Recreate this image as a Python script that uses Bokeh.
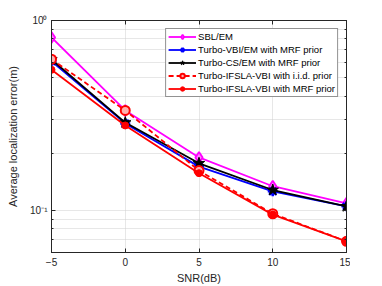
from bokeh.plotting import figure
from bokeh.models import (FixedTicker, LinearAxis, LogAxis, Legend, LegendItem, Range1d)
from bokeh.embed import file_html
from bokeh.resources import INLINE

snr = [-5, 0, 5, 10, 15]
sbl_em = [0.814, 0.336, 0.190, 0.134, 0.109]
vbi_em_mrf = [0.610, 0.287, 0.170, 0.126, 0.105]
cs_em_mrf = [0.623, 0.290, 0.177, 0.128, 0.105]
ifsla_iid = [0.625, 0.336, 0.162, 0.096, 0.0687]
ifsla_mrf = [0.550, 0.280, 0.157, 0.095, 0.0687]

x_ticks = [-5, 0, 5, 10, 15]
y_major = [0.1, 1.0]
y_minor = [0.06, 0.07, 0.08, 0.09, 0.2, 0.3, 0.4, 0.5, 0.6, 0.7, 0.8, 0.9]
y_labels = {0.1: "10\u207b\u00b9", 1.0: "10\u2070"}

FONT = "Liberation Sans"
AX = "#262626"

p = figure(frame_width=295, frame_height=232, x_axis_type="linear", y_axis_type="log",
           x_range=Range1d(-5, 15), y_range=Range1d(0.06, 1.0),
           output_backend="svg", toolbar_location=None,
           min_border_left=0, min_border_right=4, min_border_top=20, min_border_bottom=0)
p.margin = (0, 0, 0, 4)
p.background_fill_color = "white"
p.border_fill_color = "white"
p.outline_line_color = AX
p.outline_line_width = 1

p.xaxis.ticker = FixedTicker(ticks=x_ticks)
p.yaxis.ticker = FixedTicker(ticks=y_major, minor_ticks=y_minor)
p.yaxis.major_label_overrides = y_labels
p.xaxis.axis_label = "SNR(dB)"
p.yaxis.axis_label = "Average localization error(m)"
for ax in [p.xaxis[0], p.yaxis[0]]:
    ax.axis_line_color = AX
    ax.major_tick_line_color = AX
    ax.minor_tick_line_color = AX
    ax.major_tick_in = 4
    ax.major_tick_out = 0
    ax.minor_tick_in = 2
    ax.minor_tick_out = 0
    ax.major_label_text_font = FONT
    ax.major_label_text_font_size = "10px"
    ax.major_label_text_color = AX
    ax.axis_label_text_font = FONT
    ax.axis_label_text_font_size = "11px"
    ax.axis_label_text_font_style = "normal"
    ax.axis_label_text_color = AX
p.xaxis.minor_tick_line_color = None
p.xaxis.major_label_standoff = 5
p.xaxis.axis_label_standoff = 3
p.yaxis.major_label_standoff = 4
p.yaxis.axis_label_standoff = 8

top = LinearAxis(ticker=FixedTicker(ticks=x_ticks), major_label_text_font_size="6px",
                 major_label_overrides={t: "" for t in x_ticks},
                 major_tick_in=4, major_tick_out=0, axis_line_color=AX,
                 major_tick_line_color=AX, minor_tick_line_color=None,
                 major_label_standoff=0)
p.add_layout(top, "above")
right = LogAxis(ticker=FixedTicker(ticks=y_major, minor_ticks=y_minor), major_label_text_font_size="6px",
                major_label_overrides={t: "" for t in y_major},
                major_tick_in=4, major_tick_out=0, minor_tick_in=2, minor_tick_out=0,
                axis_line_color=AX, major_tick_line_color=AX, minor_tick_line_color=AX,
                major_label_standoff=0)
p.add_layout(right, "right")

p.xgrid.grid_line_color = "#cfcfcf"
p.xgrid.grid_line_dash = "1 1"
p.ygrid.grid_line_color = "#cfcfcf"
p.ygrid.grid_line_dash = "1 1"
p.ygrid.minor_grid_line_color = "#cfcfcf"
p.ygrid.minor_grid_line_dash = "1 1"

items = []

l = p.line(snr, sbl_em, line_color="#ff00ff", line_width=1.8)
m = p.scatter(snr, sbl_em, marker="diamond", size=11, line_color="#ff00ff", fill_color="#ff80ff", line_width=1.8)
items.append(LegendItem(label="SBL/EM", renderers=[l, m]))

l = p.line(snr, vbi_em_mrf, line_color="#0000ff", line_width=1.8)
m = p.scatter(snr, vbi_em_mrf, marker="asterisk", size=10, line_color="#0000ff", line_width=2.5)
m2 = p.scatter(snr, vbi_em_mrf, marker="cross", size=8, line_color="#0000ff", line_width=2.5)
items.append(LegendItem(label="Turbo-VBI/EM with MRF prior", renderers=[l, m, m2]))

l = p.line(snr, cs_em_mrf, line_color="black", line_width=1.8)
m = p.scatter(snr, cs_em_mrf, marker="star", size=12, line_color="black", fill_color="black")
items.append(LegendItem(label="Turbo-CS/EM with MRF prior", renderers=[l, m]))

l = p.line(snr, ifsla_iid, line_color="#ff0000", line_width=1.8, line_dash="5 3")
m = p.scatter(snr, ifsla_iid, marker="circle", size=9, line_color="#ff0000", fill_color="#ffb0b0", line_width=2)
items.append(LegendItem(label="Turbo-IFSLA-VBI with i.i.d. prior", renderers=[l, m]))

l = p.line(snr, ifsla_mrf, line_color="#ff0000", line_width=1.8)
m = p.scatter(snr, ifsla_mrf, marker="circle", size=7, line_color="#ff0000", fill_color="#ff0000")
items.append(LegendItem(label="Turbo-IFSLA-VBI with MRF prior", renderers=[l, m]))

legend = Legend(items=items, location="top_right", margin=8,
                label_text_font=FONT, label_text_font_size="9.5px", label_text_color="black",
                label_height=11, glyph_height=11, glyph_width=28, spacing=2, padding=2,
                label_standoff=2, border_line_color=AX, border_line_width=1,
                background_fill_alpha=1)
p.add_layout(legend, "center")

open("out.html", "w").write(file_html(p, INLINE))
